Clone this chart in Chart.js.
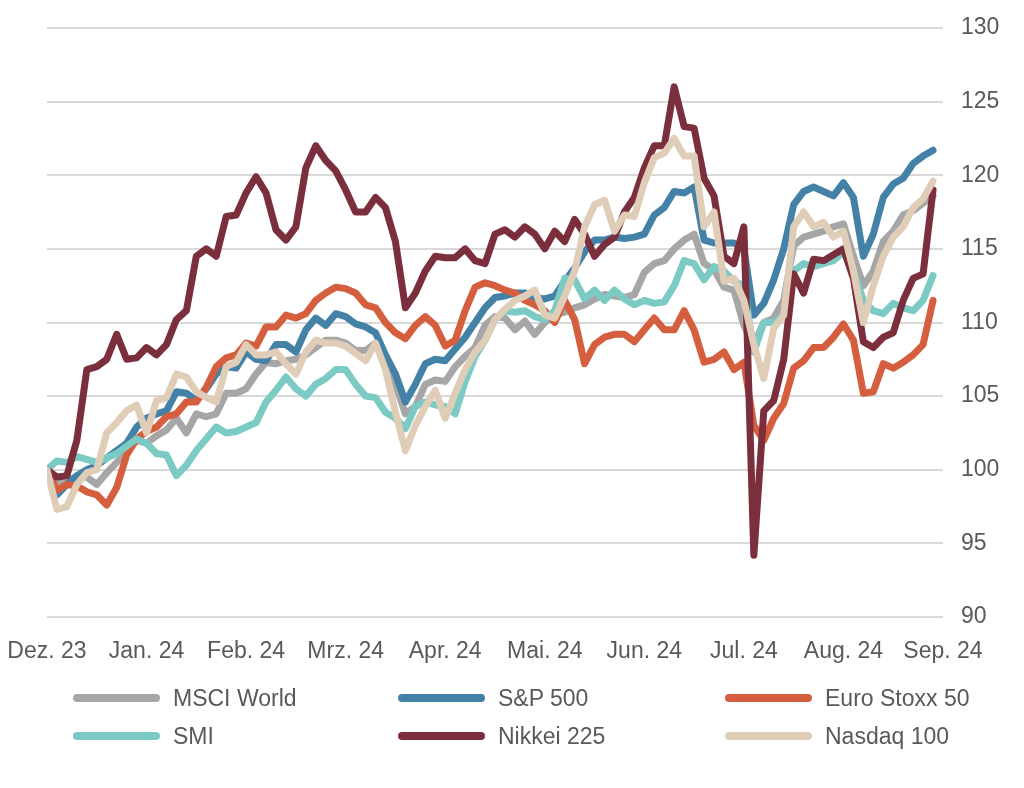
<!DOCTYPE html>
<html>
<head>
<meta charset="utf-8">
<script src="https://cdn.jsdelivr.net/npm/chart.js@4"></script>
<style>
  body { margin: 0; background: #fff; }
  #wrap { position: relative; width: 1024px; height: 788px; }
  #legend { position: absolute; left: 0; top: 0; width: 1024px; height: 788px; pointer-events: none; }
  .item { position: absolute; height: 30px; display: flex; align-items: center;
          font-family: "Liberation Sans", Arial, sans-serif; font-size: 23px; color: #595959; }
  .swatch { width: 87px; height: 8px; border-radius: 4px; margin-right: 13px; }
</style>
</head>
<body>
<div id="wrap">
  <canvas id="myChart" width="1024" height="670"></canvas>
  <div id="legend"></div>
</div>
<script>
// month tick labels (x axis runs in months from Dez. 23)
const monthLabels = ['Dez. 23', 'Jan. 24', 'Feb. 24', 'Mrz. 24', 'Apr. 24', 'Mai. 24', 'Jun. 24', 'Jul. 24', 'Aug. 24', 'Sep. 24'];
const seriesNames = ['MSCI World', 'S&P 500', 'Euro Stoxx 50', 'SMI', 'Nikkei 225', 'Nasdaq 100'];
const seriesColors = ['#A6A6A6', '#4481A7', '#D45E3E', '#7CCAC4', '#7B2E3B', '#E0CDB8'];
const stepMonths = 0.1; // one sample every tenth of a month

const msci = [100, 99.2, 99.3, 99.5, 99.5, 99, 99.8, 100.5, 101.2, 102,
  101.8, 102.3, 102.7, 103.5, 102.5, 103.8, 103.6, 103.8, 105.2, 105.2,
  105.5, 106.5, 107.3, 107.2, 107.4, 107.5, 107.8, 108.3, 108.8, 108.8,
  108.6, 108.1, 108.1, 108.6, 107.5, 105.8, 103.8, 104.3, 105.8, 106.1,
  106, 107, 107.7, 108.3, 109.8, 110.4, 110.3, 109.5, 110.1, 109.2,
  110, 110.5, 110.7, 111, 111.2, 111.6, 111.9, 111.8, 111.7, 111.9,
  113.4, 114, 114.2, 115, 115.6, 116, 114, 113.6, 112.4, 112.2,
  109.8, 108.5, 110, 110.3, 111.5, 115.2, 115.8, 116, 116.2, 116.5,
  116.7, 114.5, 112.5, 113.5, 115.5, 116.2, 117.3, 117.6, 118.1, 118.6];

const sp500 = [100, 98.3, 99, 99.6, 100, 100.3, 100.8, 101.3, 101.8, 102.9,
  103.5, 103.8, 104, 105.3, 105.2, 104.7, 105.5, 106.5, 107, 106.9,
  108, 107.5, 107.4, 108.5, 108.5, 108, 109.5, 110.3, 109.8, 110.6,
  110.4, 109.9, 109.7, 109.3, 107.8, 106.5, 104.6, 105.8, 107.2, 107.5,
  107.4, 108.2, 109, 110, 111, 111.7, 111.8, 112, 112, 111.7,
  111.6, 111.8, 112.8, 113.7, 114.8, 115.6, 115.6, 115.8, 115.7, 115.8,
  116, 117.3, 117.8, 118.9, 118.8, 119.2, 115.6, 115.4, 115.4, 115.4,
  115, 110.5, 111.3, 112.9, 115, 118, 118.9, 119.2, 118.9, 118.6,
  119.5, 118.5, 114.5, 116, 118.5, 119.4, 119.8, 120.8, 121.3, 121.7];

const euroStoxx = [100, 98.6, 99, 98.9, 98.5, 98.3, 97.6, 98.8, 101, 102.1,
  102.6, 102.9, 103.6, 103.8, 104.6, 104.6, 105.6, 107, 107.6, 107.8,
  108.6, 108.4, 109.7, 109.7, 110.5, 110.3, 110.6, 111.5, 112, 112.4,
  112.3, 112, 111.2, 111, 110, 109.3, 108.9, 109.8, 110.4, 109.8,
  108.4, 108.8, 110.8, 112.4, 112.7, 112.5, 112.2, 112, 111.5, 111.2,
  110.8, 110, 111.5, 110.2, 107.2, 108.5, 109, 109.2, 109.2, 108.7,
  109.5, 110.3, 109.5, 109.5, 110.8, 109.5, 107.3, 107.5, 108, 106.8,
  107.3, 103, 102, 103.5, 104.5, 106.9, 107.4, 108.3, 108.3, 109,
  109.9, 108.8, 105.2, 105.3, 107.2, 106.9, 107.3, 107.8, 108.5, 111.5];

const smi = [100, 100.6, 100.5, 100.9, 100.7, 100.5, 100.8, 101.1, 101.6, 102.1,
  101.8, 101.1, 101, 99.6, 100.3, 101.3, 102.1, 102.9, 102.5, 102.6,
  102.9, 103.2, 104.6, 105.4, 106.3, 105.5, 105, 105.8, 106.2, 106.8,
  106.8, 105.8, 105, 104.9, 103.9, 103.5, 102.8, 104.3, 104.6, 104.4,
  104.3, 103.8, 106, 107.7, 108.8, 110.2, 110.8, 110.7, 110.8, 110.4,
  110.2, 110.8, 113, 112.9, 111.6, 112.2, 111.5, 112.2, 111.6, 111.2,
  111.5, 111.3, 111.4, 112.5, 114.2, 114, 112.9, 113.8, 113.5, 112.8,
  112.5, 108, 110, 110, 110.5, 113.5, 114, 113.8, 114, 114.2,
  114.8, 113.5, 111.5, 110.8, 110.6, 111.3, 111, 110.8, 111.5, 113.2];

const nikkei = [100, 99.5, 99.6, 102, 106.8, 107, 107.5, 109.2, 107.5, 107.6,
  108.3, 107.8, 108.5, 110.2, 110.8, 114.5, 115, 114.5, 117.2, 117.3,
  118.8, 119.9, 118.8, 116.3, 115.6, 116.5, 120.5, 122, 121, 120.3,
  119, 117.5, 117.5, 118.5, 117.8, 115.5, 111, 112, 113.5, 114.5,
  114.4, 114.4, 115, 114.2, 114, 116, 116.3, 115.8, 116.5, 116,
  115, 116.2, 115.5, 117, 116, 114.5, 115.3, 115.8, 117.5, 118.5,
  120.5, 122, 122, 126, 123.3, 123.2, 119.8, 118.6, 114.5, 114,
  116.5, 94.2, 104, 104.7, 107.5, 113.3, 112, 114.3, 114.2, 114.6,
  115, 113, 108.7, 108.3, 109, 109.3, 111.5, 113, 113.3, 119];

const nasdaq = [100, 97.3, 97.5, 99, 99.8, 100, 102.5, 103.2, 104, 104.4,
  102.5, 104.7, 104.9, 106.5, 106.3, 105.3, 104.9, 104.6, 107, 107.3,
  108.5, 107.8, 107.8, 108, 107.2, 106.5, 108, 108.8, 108.6, 108.6,
  108.4, 107.9, 107.4, 108.6, 106.8, 103.9, 101.3, 103, 104.3, 105.4,
  103.5, 105.2, 106.8, 108, 108.8, 110.2, 110.9, 111.5, 111.8, 112.2,
  110.5, 110.3, 111.8, 113.5, 116.5, 118, 118.3, 116.2, 117.3, 117.2,
  119.5, 121.2, 121.5, 122.5, 121.3, 121.3, 116.5, 117.5, 112.8, 113,
  111.5, 108.5, 106.2, 109.6, 110.5, 116.5, 117.5, 116.5, 116.8, 115.8,
  116.2, 113.5, 110, 112.5, 114.5, 115.8, 116.5, 117.8, 118.4, 119.6];

const allSeries = [msci, sp500, euroStoxx, smi, nikkei, nasdaq];

const fontFamily = '"Liberation Sans", Arial, sans-serif';
const textColor = '#595959';

const ctx = document.getElementById('myChart');

new Chart(ctx, {
    type: 'line',
    data: {
        datasets: allSeries.map((vals, k) => ({
            label: seriesNames[k],
            data: vals.map((v, i) => ({ x: i * stepMonths, y: v })),
            borderColor: seriesColors[k],
            backgroundColor: seriesColors[k],
            borderWidth: 7,
            borderJoinStyle: 'round',
            borderCapStyle: 'round',
            pointRadius: 0,
            tension: 0,
            order: allSeries.length - k  // later series drawn on top, like the original
        }))
    },
    options: {
        responsive: false,
        animation: false,
        layout: { padding: { top: 28, left: 47, right: 0, bottom: 0 } },
        plugins: {
            legend: { display: false },
            tooltip: { enabled: false }
        },
        scales: {
            x: {
                type: 'linear',
                min: 0,
                max: 9,
                grid: { display: false },
                border: { display: false },
                afterFit: s => { s.height = 53; s.paddingLeft = 0; s.paddingRight = 0; },
                ticks: {
                    stepSize: 1,
                    autoSkip: false,
                    maxRotation: 0,
                    padding: 13,
                    color: textColor,
                    font: { family: fontFamily, size: 23 },
                    callback: v => monthLabels[v]
                }
            },
            y: {
                position: 'right',
                min: 90,
                max: 130,
                grid: { color: '#D9D9D9', lineWidth: 2, drawTicks: false },
                border: { display: false },
                afterFit: s => { s.width = 81; s.paddingTop = 0; s.paddingBottom = 0; },
                ticks: {
                    stepSize: 5,
                    padding: 18,
                    color: textColor,
                    font: { family: fontFamily, size: 23 }
                }
            }
        }
    }
});

// legend laid out in three columns like the original
const legendCols = [73, 398, 725];
const legendRows = [698, 736];
const legend = document.getElementById('legend');
seriesNames.forEach((name, k) => {
    const item = document.createElement('div');
    item.className = 'item';
    item.style.left = legendCols[k % 3] + 'px';
    item.style.top = (legendRows[Math.floor(k / 3)] - 15) + 'px';
    item.innerHTML = '<span class="swatch" style="background:' + seriesColors[k] + '"></span>' + name;
    legend.appendChild(item);
});
</script>
</body>
</html>
